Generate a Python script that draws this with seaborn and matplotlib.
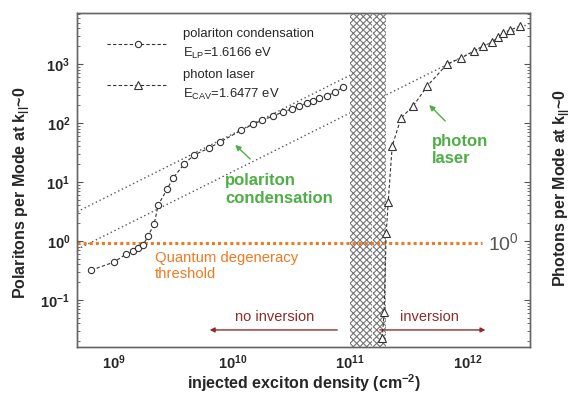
import numpy as np
import matplotlib
matplotlib.use('Agg')
import matplotlib.pyplot as plt
from matplotlib.ticker import LogLocator, NullFormatter
import seaborn as sns

# polariton condensation (circles)
pol_density = [6.4e8, 1.0e9, 1.26e9, 1.45e9, 1.6e9, 1.76e9, 1.94e9, 2.18e9, 2.36e9,
               2.81e9, 3.16e9, 3.92e9, 4.76e9, 6.38e9, 7.9e9, 1.19e10, 1.5e10, 1.8e10,
               2.22e10, 2.7e10, 3.22e10, 3.7e10, 4.32e10, 4.86e10, 5.46e10, 6.38e10,
               7.46e10, 8.73e10]
pol_occupancy = [0.32, 0.44, 0.60, 0.68, 0.76, 0.86, 1.22, 1.94, 4.07,
                 7.6, 11.7, 20.2, 28.7, 37.7, 47.6, 75, 95, 112,
                 131, 154, 173, 194, 218, 236, 265, 287,
                 335, 407]

# photon laser (triangles)
las_density = [1.87e11, 1.94e11, 2.02e11, 2.1e11, 2.27e11, 2.7e11, 3.42e11, 4.5e11,
               6.64e11, 8.73e11, 1.12e12, 1.34e12, 1.6e12, 1.8e12, 1.98e12, 2.27e12, 2.76e12]
las_occupancy = [0.0227, 0.063, 1.37, 4.58, 40.7, 122, 194, 424,
                 1000, 1264, 1660, 2018, 2360, 2870, 3350, 3770, 4400]

# dotted guide lines (slope 1)
upper_guide_x = [4.85e8, 2.0e11]
upper_guide_y = [3.13, 1291]
lower_guide_x = [4.85e8, 3.35e12]
lower_guide_y = [0.72, 4950]

# quantum degeneracy threshold
threshold_x = [4.85e8, 1.31e12]
threshold_y = [0.93, 0.93]

# hatched transition region
band_edges = [1.0e11, 1.54e11, 2.0e11]

xlim = (4.85e8, 3.35e12)
ylim = (0.016, 7300)
xticks = [1e9, 1e10, 1e11, 1e12]
xtick_labels = [r'$10^{9}$', r'$10^{10}$', r'$10^{11}$', r'$10^{12}$']
yticks = [1e-1, 1e0, 1e1, 1e2, 1e3]
ytick_labels = [r'$10^{-1}$', r'$10^{0}$', r'$10^{1}$', r'$10^{2}$', r'$10^{3}$']

sns.set_theme(style='white')
plt.rcParams['font.family'] = ['Liberation Sans', 'DejaVu Sans']
plt.rcParams['mathtext.default'] = 'regular'
plt.rcParams['hatch.linewidth'] = 0.8

green = '#4fae45'
orange = '#f07a22'
darkred = '#8e2c2c'
gray = '#333333'

fig = plt.figure(figsize=(5.8, 3.96), dpi=100)
ax = fig.add_axes([0.133, 0.124, 0.781, 0.843])
ax.set_xscale('log')
ax.set_yscale('log')

# guide lines
ax.plot(upper_guide_x, upper_guide_y, color='#555555', lw=1, ls=(0, (1, 2)), zorder=1)
ax.plot(lower_guide_x, lower_guide_y, color='#555555', lw=1, ls=(0, (1, 2)), zorder=1)

# hatched band
for left, right in zip(band_edges[:-1], band_edges[1:]):
    ax.axvspan(left, right, facecolor='white', edgecolor='#777777', hatch='xxxxx',
               linewidth=0, zorder=1.5)
ax.axvline(band_edges[1], color='white', lw=0.6, zorder=1.6)

ax.plot(threshold_x, threshold_y, color=orange, lw=2.2, ls=(0, (1, 1)), zorder=2)

sns.lineplot(x=pol_density, y=pol_occupancy, ax=ax, color=gray, lw=0.8,
             linestyle=(0, (3, 2)), marker='o', markersize=4.5,
             markerfacecolor='white', markeredgecolor=gray, markeredgewidth=0.8,
             label='polariton condensation\n$E_{LP}$=1.6166 eV', zorder=3)
sns.lineplot(x=las_density, y=las_occupancy, ax=ax, color=gray, lw=0.8,
             linestyle=(0, (3, 2)), marker='^', markersize=5.5,
             markerfacecolor='white', markeredgecolor=gray, markeredgewidth=0.8,
             label='photon laser\n$E_{CAV}$=1.6477 eV', zorder=3)

ax.set_xlim(*xlim)
ax.set_ylim(*ylim)

leg = ax.legend(loc='upper left', bbox_to_anchor=(0.04, 0.99), frameon=False,
                fontsize=9.4, handlelength=4.7, handletextpad=1.1, labelspacing=0.65,
                numpoints=1)
for t in leg.get_texts():
    t.set_linespacing(1.5)

# annotations
ax.text(8.7e9, 7.5, 'polariton\ncondensation', color=green, fontsize=12,
        fontweight='bold', va='center', ha='left', linespacing=1.2)
ax.annotate('', xy=(1.02e10, 45.8), xytext=(1.48e10, 22.7),
            arrowprops=dict(arrowstyle='-|>', color=green, lw=1, mutation_scale=8))
ax.text(4.95e11, 34.8, 'photon\nlaser', color=green, fontsize=12,
        fontweight='bold', va='center', ha='left', linespacing=1.2)
ax.annotate('', xy=(4.5e11, 218), xytext=(6.64e11, 100),
            arrowprops=dict(arrowstyle='-|>', color=green, lw=1, mutation_scale=8))
ax.text(2.22e9, 0.377, 'Quantum degeneracy\nthreshold', color=orange, fontsize=10.7,
        va='center', ha='left', linespacing=1.2)
ax.text(1.48e12, 0.93, r'$10^{0}$', color='#555555', fontsize=14, va='center', ha='left')

ax.text(2.27e10, 0.0515, 'no inversion', color=darkred, fontsize=10.5, ha='center', va='center')
ax.annotate('', xy=(6.1e9, 0.031), xytext=(8.2e10, 0.031),
            arrowprops=dict(arrowstyle='-|>', color=darkred, lw=1, mutation_scale=7))
ax.text(4.67e11, 0.0515, 'inversion', color=darkred, fontsize=10.5, ha='center', va='center')
ax.annotate('', xy=(1.48e12, 0.031), xytext=(1.69e11, 0.031),
            arrowprops=dict(arrowstyle='-|>', color=darkred, lw=1, mutation_scale=7))

# axes styling
ax.set_xticks(xticks, labels=xtick_labels, fontsize=10.5, fontweight='bold')
ax.set_yticks(yticks, labels=ytick_labels, fontsize=10.5, fontweight='bold')
ax.xaxis.set_minor_locator(LogLocator(base=10, subs=np.arange(2, 10), numticks=20))
ax.yaxis.set_minor_locator(LogLocator(base=10, subs=np.arange(2, 10), numticks=20))
ax.xaxis.set_minor_formatter(NullFormatter())
ax.yaxis.set_minor_formatter(NullFormatter())
ax.tick_params(which='both', direction='in', color='#555555', top=False)
ax.tick_params(which='major', length=4, width=0.8, pad=5)
ax.tick_params(which='minor', length=2, width=0.6)

ax.set_xlabel(r'injected exciton density (cm$^{-2}$)', fontsize=11.5, fontweight='bold')
ax.set_ylabel(r'Polaritons per Mode at $k_{||}$~0', fontsize=11.5, fontweight='bold')
ax.yaxis.set_label_coords(-0.1, 0.46)
ax.xaxis.set_label_coords(0.5, -0.075)

ax2 = ax.twinx()
ax2.set_yscale('log')
ax2.set_ylim(*ylim)
ax2.yaxis.set_minor_locator(LogLocator(base=10, subs=np.arange(2, 10), numticks=20))
ax2.tick_params(which='both', direction='in', color='#555555', labelright=False)
ax2.tick_params(which='major', length=4, width=0.8)
ax2.tick_params(which='minor', length=2, width=0.6)
ax2.set_ylabel(r'Photons per Mode at $k_{||}$~0', fontsize=11.5, fontweight='bold')
ax2.yaxis.set_label_coords(1.046, 0.476)

for a in (ax, ax2):
    for s in a.spines.values():
        s.set_color('#666666')
        s.set_linewidth(1)

fig.savefig('out.png', dpi=100)
